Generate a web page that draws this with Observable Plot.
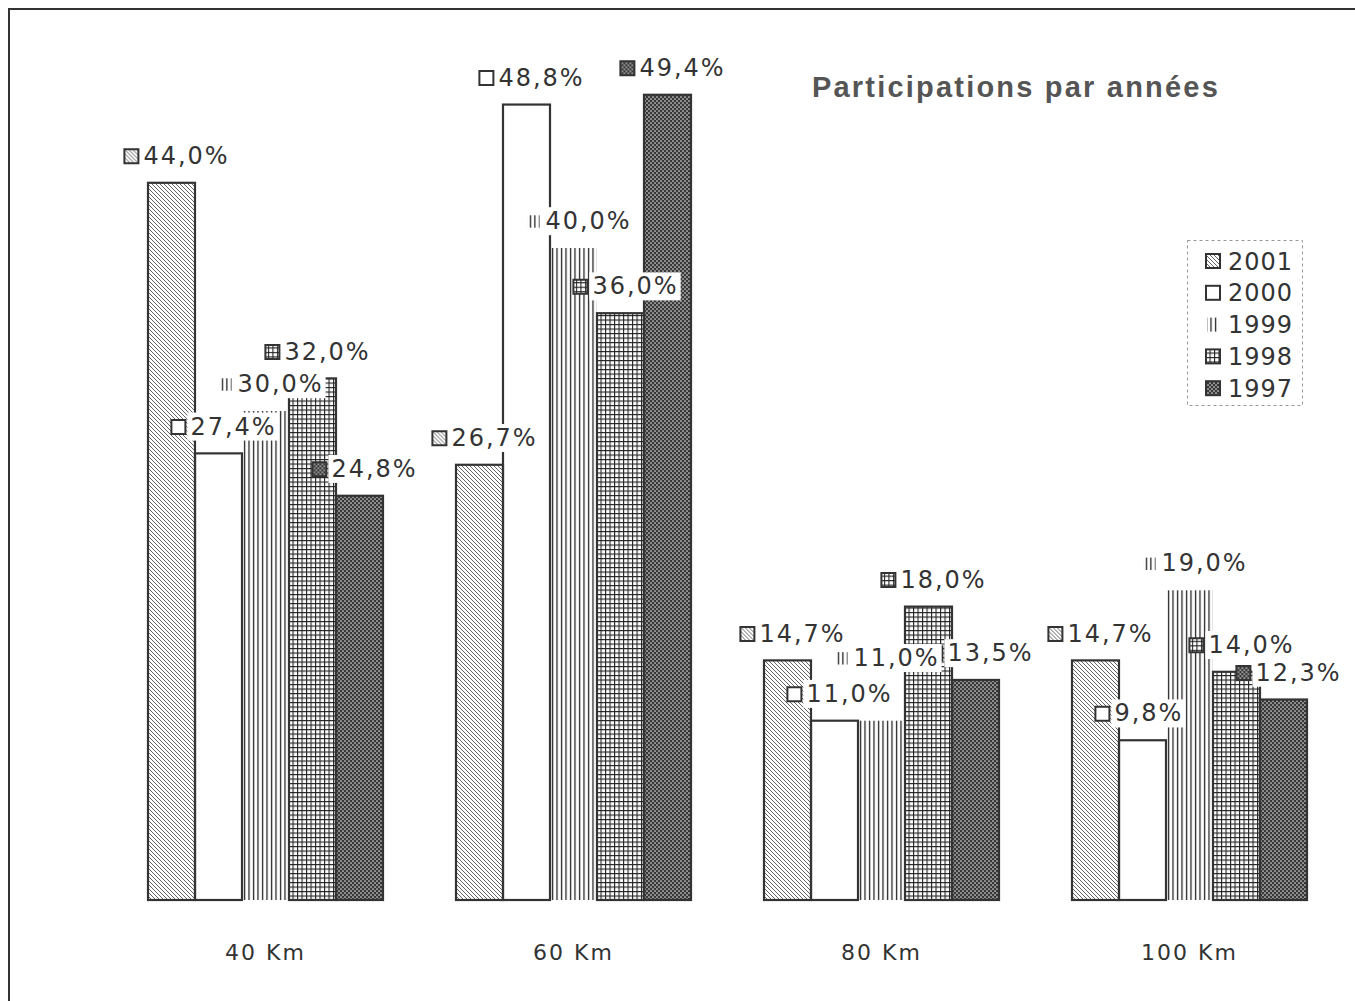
<!DOCTYPE html>
<html>
<head>
<meta charset="utf-8">
<script src="https://cdn.jsdelivr.net/npm/d3@7"></script>
<script src="https://cdn.jsdelivr.net/npm/@observablehq/plot@0.6"></script>
<style>
  html, body { margin: 0; padding: 0; background: #fff; }
  #wrap { position: relative; width: 1355px; height: 1001px; overflow: hidden; background: #fff; }
  #frame { position: absolute; left: 8px; top: 8px; width: 1400px; height: 1100px; border: 2px solid #333; }
  #title { position: absolute; left: 812px; top: 71px; font-family: "Liberation Sans", Arial, sans-serif; font-weight: bold; font-size: 29px; letter-spacing: 2.2px; color: #555; white-space: nowrap; }
  #chart { position: absolute; left: 0; top: 0; }
  #chart svg text { letter-spacing: 2px; }
  #legend { position: absolute; left: 1187px; top: 240px; }
</style>
</head>
<body>
<svg width="0" height="0" style="position:absolute">
  <defs>
    <pattern id="p2001" patternUnits="userSpaceOnUse" width="4" height="4">
      <rect width="4" height="4" fill="#fff"/>
      <path d="M0,0L4,4M-1,3L1,5M3,-1L5,1" stroke="#555" stroke-width="0.9"/>
    </pattern>
    <pattern id="p2000" patternUnits="userSpaceOnUse" width="4" height="4">
      <rect width="4" height="4" fill="#fff"/>
    </pattern>
    <pattern id="p1999" patternUnits="userSpaceOnUse" width="4.5" height="10">
      <rect width="4.5" height="10" fill="#fff"/>
      <line x1="1.5" y1="0" x2="1.5" y2="10" stroke="#222" stroke-width="1.3"/>
    </pattern>
    <pattern id="p1998" patternUnits="userSpaceOnUse" width="4.5" height="4.5">
      <rect width="4.5" height="4.5" fill="#fff"/>
      <path d="M0.5,0V4.5M0,0.5H4.5" stroke="#222" stroke-width="1.2"/>
    </pattern>
    <pattern id="p1997" patternUnits="userSpaceOnUse" width="4" height="4">
      <rect width="4" height="4" fill="#383838"/>
      <circle cx="1" cy="1" r="0.85" fill="#ddd"/>
      <circle cx="3" cy="3" r="0.85" fill="#ddd"/>
    </pattern>
  </defs>
</svg>
<div id="wrap">
  <div id="frame"></div>
  <div id="chart"></div>
  <div id="title">Participations par années</div>
  <div id="legend"></div>
</div>
<script>
// ---- data ----
const distances = ["40 Km", "60 Km", "80 Km", "100 Km"];
const years = ["2001", "2000", "1999", "1998", "1997"];
const v2001 = [44.0, 26.7, 14.7, 14.7];
const v2000 = [27.4, 48.8, 11.0, 9.8];
const v1999 = [30.0, 40.0, 11.0, 19.0];
const v1998 = [32.0, 36.0, 18.0, 14.0];
const v1997 = [24.8, 49.4, 13.5, 12.3];
const seriesByYear = {"2001": v2001, "2000": v2000, "1999": v1999, "1998": v1998, "1997": v1997};
const patterns = years.map(y => `url(#p${y})`);

const fmt = v => d3.format(".1f")(v).replace(".", ",") + "%";

// build rows; lift a label above its left neighbour when they would collide
const rows = [];
distances.forEach((dist, k) => {
  let prev = null;
  years.forEach(yr => {
    const value = seriesByYear[yr][k];
    let labelY = value;
    if (prev !== null && Math.abs(labelY - prev) < 1.6) labelY = prev + 2.2;
    prev = labelY;
    rows.push({distance: dist, year: yr, value, labelY});
  });
});

const chart = Plot.plot({
  width: 1355,
  height: 1001,
  marginLeft: 147,
  marginRight: 48,
  marginTop: 85,
  marginBottom: 101,
  style: {fontFamily: "DejaVu Sans", color: "#333", background: "transparent"},
  fx: {domain: distances, paddingInner: 0.234, paddingOuter: 0, label: null},
  x: {domain: years, padding: 0, axis: null},
  y: {domain: [0, 50], axis: null},
  color: {type: "ordinal", domain: years, range: patterns},
  marks: [
    Plot.barY(rows, {fx: "distance", x: "year", y: "value", fill: "year"}),
    Plot.barY(rows, {filter: d => d.year !== "1999", fx: "distance", x: "year", y: "value", fill: "none", stroke: "#333", strokeWidth: 2.2}),
    Plot.dot(rows, {filter: d => d.year !== "1999", fx: "distance", x: "year", y: "labelY", dx: -40.6, dy: -27,
      symbol: "square", r: 7.9, fill: "year", stroke: "#333", strokeWidth: 2}),
    Plot.dot(rows, {filter: d => d.year === "1999", fx: "distance", x: "year", y: "labelY", dx: -40.6, dy: -27,
      symbol: "square", r: 7, fill: "year"}),
    Plot.text(rows, {fx: "distance", x: "year", y: "labelY", text: d => fmt(d.value), dx: -28.6, dy: -27,
      textAnchor: "start", lineAnchor: "middle", fontSize: 24, fill: "#333"}),
    Plot.axisFx({anchor: "bottom", tickSize: 0, tickPadding: 44, fontSize: 22, label: null, fill: "#333"})
  ]
});
document.getElementById("chart").appendChild(chart);

// white boxes behind the value labels (they hide the bars they overlap);
// all boxes of a group go first so no box hides another label's text
const NS = "http://www.w3.org/2000/svg";
Array.from(chart.querySelectorAll("text"))
  .filter(t => t.textContent.trim().endsWith("%"))
  .forEach(t => {
    const b = t.getBBox();
    const r = document.createElementNS(NS, "rect");
    r.setAttribute("x", b.x - 3);
    r.setAttribute("y", b.y);
    r.setAttribute("width", b.width + 5);
    r.setAttribute("height", b.height);
    r.setAttribute("fill", "#fff");
    if (t.getAttribute("transform")) r.setAttribute("transform", t.getAttribute("transform"));
    t.parentNode.insertBefore(r, t.parentNode.firstChild);
  });

// legend
const lg = d3.select("#legend").append("svg").attr("width", 118).attr("height", 168);
lg.append("rect").attr("x", 0.5).attr("y", 0.5).attr("width", 115).attr("height", 165)
  .attr("fill", "#fff").attr("stroke", "#999").attr("stroke-dasharray", "3 3");
years.forEach((yr, i) => {
  const cy = 21 + i * 31.8;
  if (yr === "1999") {
    lg.append("rect").attr("x", 20).attr("y", cy - 7).attr("width", 12).attr("height", 14).attr("fill", patterns[i]);
  } else {
    lg.append("rect").attr("x", 19).attr("y", cy - 7).attr("width", 14).attr("height", 14)
      .attr("fill", patterns[i]).attr("stroke", "#333").attr("stroke-width", 2);
  }
  lg.append("text").attr("x", 41).attr("y", cy).attr("dy", "0.36em")
    .attr("font-family", "DejaVu Sans").attr("font-size", 24).attr("letter-spacing", 1)
    .attr("fill", "#333").text(yr);
});
</script>
</body>
</html>
